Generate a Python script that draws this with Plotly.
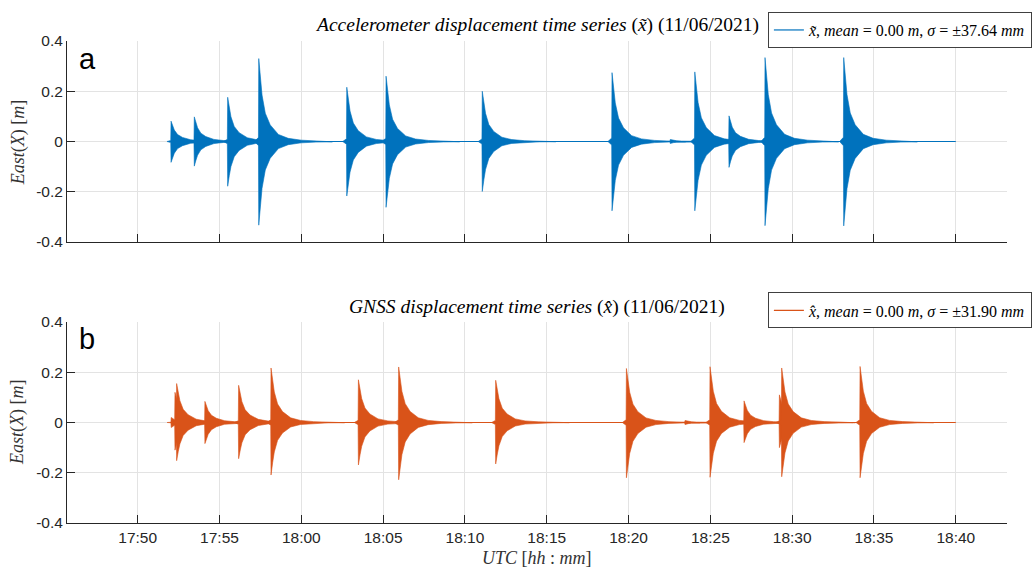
import pandas as pd
import plotly.graph_objects as go
from plotly.subplots import make_subplots

# ---------------- data ----------------
# burst onset times, minutes after 17:00 UTC on 11/06/2021
acc_onset = [52.04, 53.46, 55.50, 57.40, 62.78, 65.18, 71.06, 78.99, 82.55, 84.05, 86.14, 88.34, 93.15]
acc_peak_up = [0.081, 0.098, 0.176, 0.330, 0.216, 0.260, 0.200, 0.274, 0.008, 0.277, 0.102, 0.334, 0.334]
acc_peak_dn = [0.083, 0.098, 0.178, 0.333, 0.217, 0.262, 0.199, 0.276, 0.008, 0.276, 0.103, 0.335, 0.336]

gnss_onset = [52.05, 52.28, 52.38, 54.11, 56.17, 58.15, 63.49, 65.95, 71.88, 79.87, 83.45, 84.98, 87.06, 89.22, 89.36, 94.15]
gnss_peak_up = [0.020, 0.120, 0.155, 0.084, 0.148, 0.217, 0.170, 0.221, 0.168, 0.215, 0.008, 0.222, 0.086, 0.110, 0.217, 0.223]
gnss_peak_dn = [0.020, 0.110, 0.152, 0.084, 0.144, 0.209, 0.169, 0.228, 0.165, 0.220, 0.008, 0.218, 0.080, 0.100, 0.216, 0.220]

record_span = [52.0, 100.0]          # minutes after 17:00
record_level = [0.0, 0.0]

# decay envelope of a burst (minutes from peak, fraction of peak), read from the largest bursts
env_dt = [-0.25, -0.12, -0.02, 0.0, 0.05, 0.1, 0.2, 0.4, 0.7, 1.2, 1.8, 2.6, 3.5, 4.5]
env_frac = [0.0, 0.03, 0.05, 1.0, 0.88, 0.76, 0.56, 0.34, 0.20, 0.085, 0.038, 0.016, 0.007, 0.004]

acc_label = "<i>x̃</i>, <i>mean</i> = 0.00 <i>m</i>, <i>σ</i> = ±37.64 <i>mm</i>"
gnss_label = "<i>x̂</i>, <i>mean</i> = 0.00 <i>m</i>, <i>σ</i> = ±31.90 <i>mm</i>"
acc_title = "<i>Accelerometer displacement time series</i> (<i>x̃</i>) (11/06/2021)"
gnss_title = "<i>GNSS displacement time series</i> (<i>x̂</i>) (11/06/2021)"

tick_minutes = [50, 55, 60, 65, 70, 75, 80, 85, 90, 95, 100]
ytick_vals = [-0.4, -0.2, 0, 0.2, 0.4]
ytick_text = ["-0.4", "-0.2", "0", "0.2", "0.4"]

# ---------------- helpers ----------------
BASE = pd.Timestamp("2021-06-11 17:00:00")


def tm(m):
    return BASE + pd.Timedelta(minutes=m)


BLUE = "#0072BD"
ORANGE = "#D95319"
SERIF = "Liberation Serif, Times New Roman, serif"
SANS = "Liberation Sans, Arial, Helvetica, sans-serif"
AX = "#262626"

fig = make_subplots(rows=2, cols=1, vertical_spacing=0.166)


def add_bursts(onsets, ups, dns, color, row):
    for on, up, dn in zip(onsets, ups, dns):
        xs = [tm(on + d) for d in env_dt] + [tm(on + d) for d in reversed(env_dt)]
        ys = [up * f for f in env_frac] + [-dn * f for f in reversed(env_frac)]
        fig.add_trace(go.Scatter(x=xs, y=ys, mode="lines", fill="toself", fillcolor=color,
                                 line=dict(width=0.6, color=color), showlegend=False,
                                 hoverinfo="skip"), row=row, col=1)


add_bursts(acc_onset, acc_peak_up, acc_peak_dn, BLUE, 1)
fig.add_trace(go.Scatter(x=[tm(m) for m in record_span], y=record_level, mode="lines",
                         line=dict(color=BLUE, width=1.2), name=acc_label,
                         legend="legend", showlegend=True), row=1, col=1)
add_bursts(gnss_onset, gnss_peak_up, gnss_peak_dn, ORANGE, 2)
fig.add_trace(go.Scatter(x=[tm(m) for m in record_span], y=record_level, mode="lines",
                         line=dict(color=ORANGE, width=1.2), name=gnss_label,
                         legend="legend2", showlegend=True), row=2, col=1)

xrange = [tm(45.68), tm(103.13)]
tickvals = [tm(m) for m in tick_minutes]
for r in (1, 2):
    fig.update_xaxes(row=r, col=1, type="date", range=xrange, tickvals=tickvals,
                     tickformat="%H:%M", showticklabels=(r == 2),
                     showline=True, linecolor=AX, linewidth=1, mirror=False,
                     ticks="inside", ticklen=8, tickcolor=AX, tickwidth=1,
                     showgrid=True, gridcolor="#e3e3e3", gridwidth=1, zeroline=False,
                     tickfont=dict(family=SANS, size=15.5, color=AX), automargin=False)
    fig.update_yaxes(row=r, col=1, range=[-0.4, 0.4], tickvals=ytick_vals, ticktext=ytick_text,
                     showline=True, linecolor=AX, linewidth=1, mirror=False,
                     ticks="inside", ticklen=8, tickcolor=AX, tickwidth=1,
                     showgrid=True, gridcolor="#e3e3e3", gridwidth=1, zeroline=False,
                     tickfont=dict(family=SANS, size=15.5, color=AX), automargin=False)

fig.update_xaxes(row=1, col=1, domain=[0, 1])
fig.update_yaxes(row=1, col=1, domain=[0.583, 1.0])
fig.update_yaxes(row=2, col=1, domain=[0.0, 0.417])

legend_style = dict(font=dict(family=SERIF, size=16, color="#000"), bgcolor="white",
                    bordercolor="#404040", borderwidth=1, xanchor="right", yanchor="middle",
                    xref="container", yref="container", itemwidth=30, tracegroupgap=0)

ann = []
ann.append(dict(text=acc_title, x=0.5, y=1.033, xref="paper", yref="paper", showarrow=False,
                font=dict(family=SERIF, size=19.5, color="#000"), xanchor="center", yanchor="middle"))
ann.append(dict(text=gnss_title, x=0.5, y=0.448, xref="paper", yref="paper", showarrow=False,
                font=dict(family=SERIF, size=19.5, color="#000"), xanchor="center", yanchor="middle"))
for yy in (0.79, 0.21):
    ann.append(dict(text="<i>East</i>(<i>X</i>) [<i>m</i>]", x=-0.052, y=yy, xref="paper", yref="paper",
                    showarrow=False, textangle=-90, font=dict(family=SERIF, size=18, color="#333"),
                    xanchor="center", yanchor="middle"))
ann.append(dict(text="<i>UTC</i> [<i>hh</i> : <i>mm</i>]", x=0.5, y=-0.072, xref="paper", yref="paper",
                showarrow=False, font=dict(family=SERIF, size=18, color="#333"),
                xanchor="center", yanchor="middle"))
ann.append(dict(text="a", x=0.0213, y=0.963, xref="paper", yref="paper", showarrow=False,
                font=dict(family=SANS, size=29, color="#000"), xanchor="center", yanchor="middle"))
ann.append(dict(text="b", x=0.0213, y=0.382, xref="paper", yref="paper", showarrow=False,
                font=dict(family=SANS, size=29, color="#000"), xanchor="center", yanchor="middle"))

fig.update_layout(
    width=1035, height=567,
    margin=dict(l=67, r=28, t=41, b=44, autoexpand=False),
    paper_bgcolor="white", plot_bgcolor="white",
    legend=dict(x=0.997, y=0.947, **legend_style),
    legend2=dict(x=0.997, y=0.4524, **legend_style),
    annotations=ann,
)

fig.write_html("out.html", config={"displayModeBar": False},
               post_script="document.body.style.margin='0px';document.body.style.overflow='hidden';")
